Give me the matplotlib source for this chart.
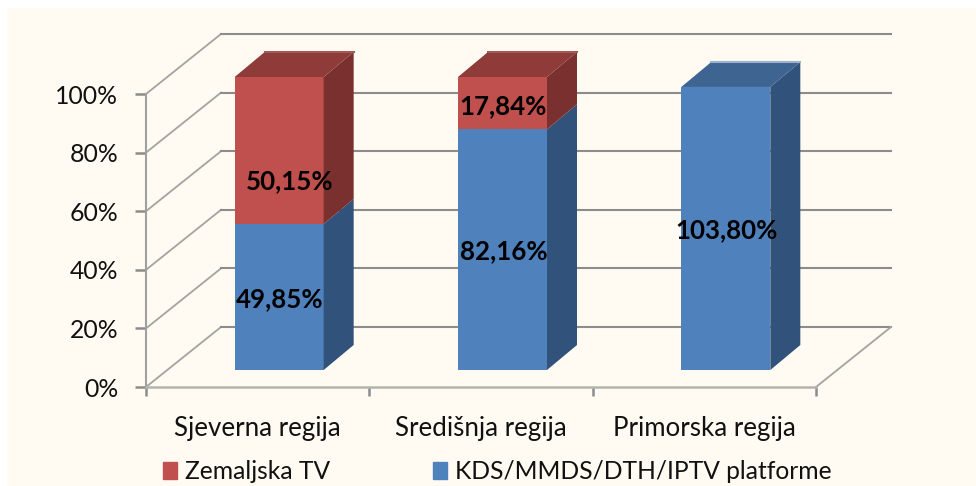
#!/usr/bin/env python3

import matplotlib
matplotlib.use("Agg")
import matplotlib.pyplot as plt
from matplotlib.patches import Polygon, Patch, Rectangle

regions = ["Sjeverna regija", "Središnja regija", "Primorska regija"]
kds = [49.85, 82.16, 96.6]
zemaljska = [50.15, 17.84, 0.0]
kds_labels = ["49,85%", "82,16%", "103,80%"]
zem_labels = ["50,15%", "17,84%", ""]
yticks = [0, 20, 40, 60, 80, 100]
series_names = ["Zemaljska TV", "KDS/MMDS/DTH/IPTV platforme"]

#PARAMETERS-------------
W, H = 976, 486
left, right, bottom, top = 146, 816, 387, 94
bg = "#FFFBF2"
red = ("#C0504D", "#7A302E", "#8E3B39", "#A05A58")
blue = ("#4F81BD", "#31527A", "#3E6492", "#9DB3CC")
grid_col = "#8C8C8C"
slant_col = "#A3A3A0"
text_col = "#111111"
font = "Lato"
#------------------------

plt.rcParams["font.family"] = [font, "DejaVu Sans"]

fig = plt.figure(figsize=(W / 100, H / 100), dpi=100, facecolor="white")
# cream panel, white strip left and on top
fig.add_artist(Rectangle((7 / W, 0), 1 - 7 / W, 1 - 8 / H, transform=fig.transFigure,
	facecolor=bg, edgecolor="none", zorder=-1))
ax = fig.add_axes([left / W, 1 - bottom / H, (right - left) / W, (bottom - top) / H])
ax.set_facecolor("none")
ax.set_xlim(0, 3)
ax.set_ylim(0, 100)

# pixel lengths to data units
px_x = 3 / (right - left)
px_y = 100 / (bottom - top)

# back wall
wall_dx, wall_dy = 75 * px_x, 60 * px_y
for v in yticks:
	ax.plot([0, wall_dx], [v, v + wall_dy], color=slant_col, lw=1.3, clip_on=False, zorder=1)
	ax.plot([wall_dx, 3 + wall_dx], [v + wall_dy, v + wall_dy], color=grid_col, lw=1.5, clip_on=False, zorder=1)
ax.plot([3, 3 + wall_dx], [0, wall_dy], color=slant_col, lw=1.3, clip_on=False, zorder=1)

# bars, front plane pushed into the floor
front_dx, front_dy = 21.5 * px_x, 17 * px_y
depth_dx, depth_dy = 30 * px_x, 25 * px_y
width = 89 * px_x


def box(x0, y0, h, cols):
	ax.bar(x0, h, width, bottom=y0, align="edge", color=cols[0], clip_on=False, zorder=3)
	x1 = x0 + width
	y1 = y0 + h
	ax.add_patch(Polygon([(x1, y0), (x1 + depth_dx, y0 + depth_dy), (x1 + depth_dx, y1 + depth_dy), (x1, y1)],
		facecolor=cols[1], edgecolor="none", clip_on=False, zorder=3))
	return x1, y1


for i in range(len(regions)):
	x0 = i + 0.5 + front_dx - width / 2
	x1, y1 = box(x0, front_dy, kds[i], blue)
	top_cols = blue
	if zemaljska[i] > 0:
		x1, y1 = box(x0, front_dy + kds[i], zemaljska[i], red)
		top_cols = red
	ax.add_patch(Polygon([(x0, y1), (x1, y1), (x1 + depth_dx, y1 + depth_dy), (x0 + depth_dx, y1 + depth_dy)],
		facecolor=top_cols[2], edgecolor="none", clip_on=False, zorder=3))
	ax.plot([x0 + depth_dx, x1 + depth_dx], [y1 + depth_dy, y1 + depth_dy], color=top_cols[3], lw=1.5,
		clip_on=False, zorder=4)

	xc = x0 + width / 2
	ax.text(xc + 1 * px_x, front_dy + kds[i] / 2 - 2 * px_y, kds_labels[i], ha="center", va="center",
		fontsize=18.6, fontweight="bold", color="black", zorder=5)
	if zem_labels[i]:
		# first label sits lower and to the right of the segment middle
		shift_x, shift_y = (11, -31) if i == 0 else (1, -3)
		ax.text(xc + shift_x * px_x, front_dy + kds[i] + zemaljska[i] / 2 + shift_y * px_y, zem_labels[i],
			ha="center", va="center", fontsize=18.6, fontweight="bold", color="black", zorder=5)

# axes
for s in ["top", "right"]:
	ax.spines[s].set_visible(False)
ax.spines["left"].set_color("#A0A0A0")
ax.spines["left"].set_linewidth(1.5)
ax.spines["bottom"].set_color("#B4B4AE")
ax.spines["bottom"].set_linewidth(1.8)
ax.set_yticks(yticks)
ax.set_yticklabels([f"{v}%" for v in yticks])
ax.set_xticks([0, 1, 2, 3])
ax.set_xticklabels([])
ax.set_xticks([0.5, 1.5, 2.5], minor=True)
ax.set_xticklabels(regions, minor=True)
ax.tick_params(axis="y", which="major", length=8, width=1.8, color="#8C8C8C", labelsize=17.8,
	labelcolor=text_col, pad=12)
ax.tick_params(axis="x", which="major", length=6.5, width=1.8, color="#8C8C8C")
ax.tick_params(axis="x", which="minor", length=0, labelsize=18.6, labelcolor=text_col, pad=21)

handles = [Patch(color=red[0]), Patch(color=blue[0])]
fig.legend(handles, series_names, loc="lower left", bbox_to_anchor=(163 / W, 3 / H), ncol=2, frameon=False,
	fontsize=17.7, handlelength=0.57, handleheight=0.73, handletextpad=0.325, columnspacing=4.17,
	labelcolor=text_col, borderpad=0, borderaxespad=0)

fig.savefig("out.png", dpi=100, facecolor="white")
